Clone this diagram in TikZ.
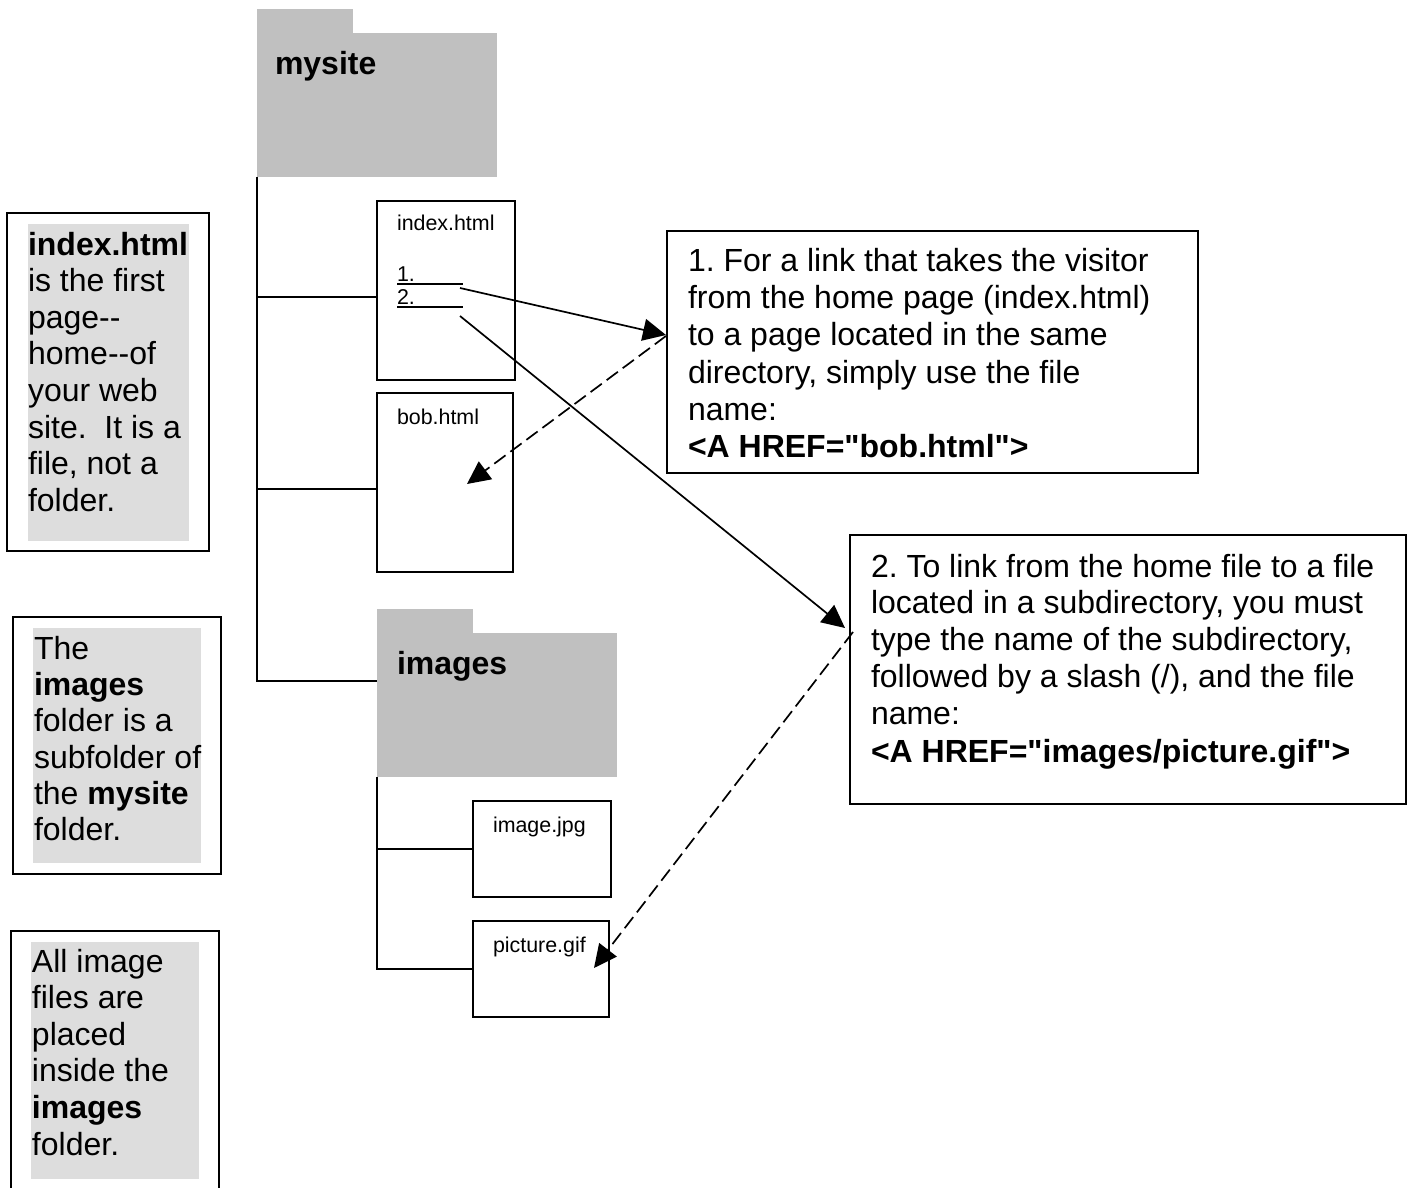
\documentclass[tikz,border=0pt]{standalone}
\usepackage{fontspec}
\newfontfamily\arialfont{Liberation Sans}
\usetikzlibrary{arrows.meta}
\definecolor{foldergray}{HTML}{C0C0C0}
\definecolor{panelgray}{HTML}{DDDDDD}
\tikzset{
  px/.style={x=0.5pt,y=-0.5pt},
  box/.style={draw=black,line width=1pt,fill=white,rectangle,inner sep=0pt,outer sep=0pt,anchor=north west},
  panel/.style={fill=panelgray,rectangle,inner sep=0pt,outer sep=0pt,anchor=north west},
  folderpart/.style={fill=foldergray,rectangle,inner sep=0pt,outer sep=0pt,anchor=north west},
  bodytext/.style={inner sep=0pt,outer sep=0pt,anchor=north west,align=left,font=\arialfont\fontsize{16}{18.4}\selectfont},
  widetext/.style={bodytext,font=\arialfont\fontsize{16}{18.65}\selectfont},
  smalltext/.style={inner sep=0pt,outer sep=0pt,anchor=base west,font=\arialfont\fontsize{10.7}{12}\selectfont},
  foldertext/.style={inner sep=0pt,outer sep=0pt,anchor=base west,font=\arialfont\fontsize{16}{18}\selectfont\bfseries},
  wire/.style={draw=black,line width=1pt},
  link/.style={draw=black,line width=0.85pt,-{Triangle[length=11.5pt,width=11pt]}},
  dashlink/.style={link,dash pattern=on 7pt off 3pt},
}
\begin{document}
\begin{tikzpicture}[px]
\useasboundingbox (0,0) rectangle (1410,1188);
% folders
\node[folderpart,minimum width=48pt,minimum height=14pt] (mysitetab) at (257,9) {};
\node[folderpart,minimum width=120pt,minimum height=72pt] (mysite) at (257,33) {};
\node[foldertext] (mysitelabel) at (275,75) {mysite};
\node[folderpart,minimum width=48pt,minimum height=14pt] (imagestab) at (377,609) {};
\node[folderpart,minimum width=120pt,minimum height=72pt] (images) at (377,633) {};
\node[foldertext] (imageslabel) at (397,674) {images};
% file boxes
\node[box,minimum width=69pt,minimum height=89.5pt] (index) at (377,201) {};
\node[box,minimum width=68pt,minimum height=89.5pt] (bob) at (377,393) {};
\node[box,minimum width=69pt,minimum height=48pt] (imagejpg) at (473,801) {};
\node[box,minimum width=68pt,minimum height=48pt] (picture) at (473,921) {};
\node[smalltext] (indexlabel) at (397,231) {index.html};
\node[smalltext] (one) at (397,281) {1.};
\node[smalltext] (two) at (397,304) {2.};
\node[smalltext] (boblabel) at (397,424) {bob.html};
\node[smalltext] (imagelabel) at (493,832) {image.jpg};
\node[smalltext] (picturelabel) at (493,952) {picture.gif};
\coordinate (u1a) at (397,284); \coordinate (u1b) at (463,284);
\coordinate (u2a) at (397,307); \coordinate (u2b) at (463,307);
\draw[wire] (u1a) -- (u1b);
\draw[wire] (u2a) -- (u2b);
% tree lines
\coordinate (t0) at (257,177); \coordinate (t1) at (257,297); \coordinate (t2) at (257,489); \coordinate (t3) at (257,681);
\coordinate (i0) at (377,777); \coordinate (i1) at (377,849); \coordinate (i2) at (377,969);
\draw[wire] (t0) -- (t3) -- (t3 -| images.west);
\draw[wire] (t1) -- (t1 -| index.west);
\draw[wire] (t2) -- (t2 -| bob.west);
\draw[wire] (i0) -- (i2) -- (i2 -| picture.west);
\draw[wire] (i1) -- (i1 -| imagejpg.west);
% left notes
\node[box,minimum width=101pt,minimum height=169pt] (noteA) at (7,213) {};
\node[panel,minimum width=80.5pt,minimum height=158.5pt] (panelA) at (28,224) {};
\node[bodytext,font=\arialfont\fontsize{16}{18.3}\selectfont] (textA) at (28,232) {\textbf{index.html}\\is the first\\page{-}{-}\\home{-}{-}of\\your web\\site.\ \ It is a\\file, not a\\folder.};
\node[box,minimum width=104pt,minimum height=128.5pt] (noteB) at (13,617) {};
\node[panel,minimum width=84pt,minimum height=117.5pt] (panelB) at (33,628) {};
\node[bodytext,font=\arialfont\fontsize{16}{18.15}\selectfont] (textB) at (34,636) {The\\\textbf{images}\\folder is a\\subfolder of\\the \textbf{mysite}\\folder.};
\coordinate (c1) at (11,1188); \coordinate (c2) at (11,931); \coordinate (c3) at (219,931); \coordinate (c4) at (219,1188);
\draw[wire] (c1) -- (c2) -- (c3) -- (c4);
\node[panel,minimum width=84pt,minimum height=118.5pt] (panelC) at (31,942) {};
\node[bodytext,font=\arialfont\fontsize{16}{18.3}\selectfont] (textC) at (32,949) {All image\\files are\\placed\\inside the\\\textbf{images}\\folder.};
% right notes
\node[box,minimum width=265.5pt,minimum height=121pt] (note1) at (667,231) {};
\node[widetext] (text1) at (688,248) {1.\ For a link that takes the visitor\\from the home page (index.html)\\to a page located in the same\\directory, simply use the file\\name:\\\textbf{<A HREF="bob.html">}};
\node[box,minimum width=278pt,minimum height=134.5pt] (note2) at (850,535) {};
\node[bodytext] (text2) at (871,554) {2.\ To link from the home file to a file\\located in a subdirectory, you must\\type the name of the subdirectory,\\followed by a slash (/), and the file\\name:\\[0.8pt]\textbf{<A HREF="images/picture.gif">}};
% links
\coordinate (s1) at (460,288); \coordinate (e1) at (666,335);
\coordinate (d1) at (666,336); \coordinate (f1) at (467,484);
\coordinate (s2) at (460,316); \coordinate (e2) at (845,628);
\coordinate (d2) at (853,632); \coordinate (f2) at (594,968);
\draw[link] (s1) -- (e1);
\draw[dashlink] (d1) -- (f1);
\draw[link] (s2) -- (e2);
\draw[dashlink] (d2) -- (f2);
\end{tikzpicture}
\end{document}
